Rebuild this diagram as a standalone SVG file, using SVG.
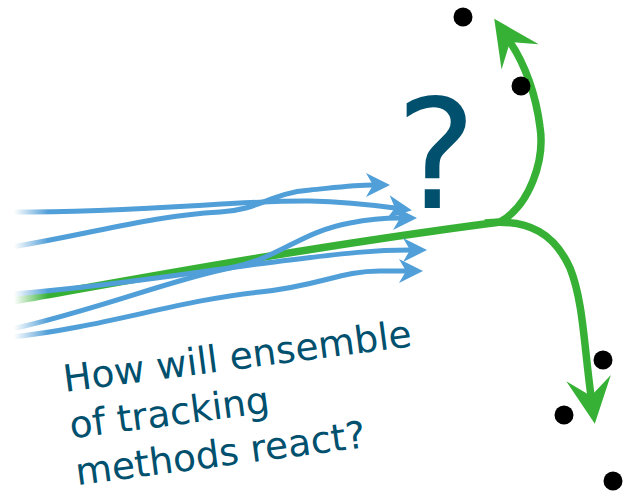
<svg xmlns="http://www.w3.org/2000/svg" width="625" height="492" viewBox="0 0 625 492">
  <style>
    .blue { fill: none; stroke: #519fd8; stroke-width: 5; marker-end: url(#headBlue); }
    .green { fill: none; stroke: #37b135; stroke-width: 7.5; }
    .dot { fill: #000; }
    .label { font-family: "DejaVu Sans", "Liberation Sans", sans-serif; fill: #00506e; }
  </style>
  <defs>
    <!-- swept arrowheads; the line ends at the notch (0,0) -->
    <marker id="headBlue" markerUnits="userSpaceOnUse" orient="auto" refX="0" refY="0" markerWidth="40" markerHeight="40" overflow="visible">
      <path d="M0,0 L-7,-12 L17,0 L-7,12 Z" fill="#519fd8"/>
    </marker>
    <marker id="headGreen" markerUnits="userSpaceOnUse" orient="auto" refX="0" refY="0" markerWidth="80" markerHeight="80" overflow="visible">
      <path d="M0,0 L-18,-22.5 L28,0 L-18,22.5 Z" fill="#37b135"/>
    </marker>
    <linearGradient id="fadeGrad" gradientUnits="userSpaceOnUse" x1="14" y1="0" x2="48" y2="0">
      <stop offset="0" stop-color="#000"/>
      <stop offset="1" stop-color="#fff"/>
    </linearGradient>
    <mask id="fadeLeft" maskUnits="userSpaceOnUse" x="0" y="0" width="625" height="492">
      <rect x="0" y="0" width="625" height="492" fill="url(#fadeGrad)"/>
    </mask>
  </defs>

  <g id="connectors" mask="url(#fadeLeft)">
    <!-- reference track: trunk and its two branches -->
    <g id="reference-track">
      <path class="green" d="M12,301 C120,282 300,248 500,222 C530,205 545,160 540,127 C536,95 525,64 510,42" marker-end="url(#headGreen)"/>
      <path class="green" d="M485,223 C530,218 555,235 570,268 C583,300 584,345 591,396" marker-end="url(#headGreen)"/>
    </g>
    <!-- ensemble tracks -->
    <g id="ensemble-tracks">
      <path class="blue" d="M12,212 C150,212 240,200 310,201 C350,202 380,206 395,208"/>
      <path class="blue" d="M12,247 C100,232 150,216 220,212 C260,210 270,193 310,190 C340,187 355,185 373,185"/>
      <path class="blue" d="M12,294 C120,286 220,268 290,260 C340,254 370,250 410,250"/>
      <path class="blue" d="M12,329 C100,309 170,280 230,268 C280,258 300,232 350,223 C370,219 385,218 400,218"/>
      <path class="blue" d="M12,337 C100,328 180,300 260,292 C320,286 340,271 380,271 L406,271"/>
    </g>
  </g>

  <g id="points">
    <circle class="dot" cx="463" cy="17" r="9.5"/>
    <circle class="dot" cx="521" cy="86" r="9.5"/>
    <circle class="dot" cx="603" cy="360" r="9.5"/>
    <circle class="dot" cx="564" cy="415" r="9.5"/>
    <circle class="dot" cx="613" cy="481" r="9.5"/>
  </g>

  <g id="question">
    <text class="label" x="436" y="208" font-size="152" text-anchor="middle">?</text>
  </g>

  <g id="caption">
    <text class="label" font-size="37.5" transform="translate(65,392) rotate(-7.5)">
      <tspan x="0" y="0">How will ensemble</tspan>
      <tspan x="0" y="47">of tracking</tspan>
      <tspan x="0" y="94">methods react?</tspan>
    </text>
  </g>
</svg>
